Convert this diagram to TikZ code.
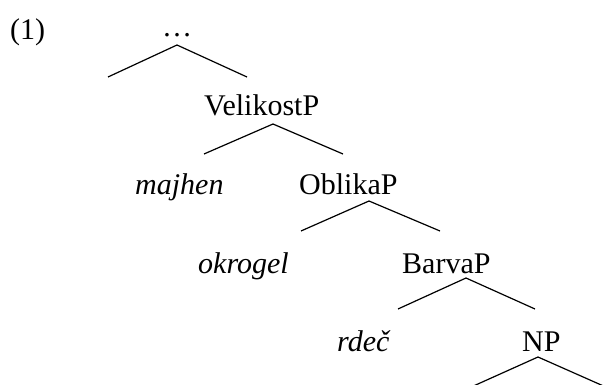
\documentclass[tikz,border=0pt]{standalone}
\usepackage{fontspec}
\setmainfont{Liberation Serif}
\begin{document}
\begin{tikzpicture}[x=1pt,y=-1pt,
  lbl/.style={anchor=base west, inner sep=0pt, font=\fontsize{30}{36}\selectfont},
  itl/.style={anchor=base west, inner sep=0pt, font=\fontsize{30}{36}\selectfont\itshape},
  branch/.style={line width=1.2pt, line join=miter}]
\useasboundingbox (0,0) rectangle (606,385);
\clip (0,0) rectangle (606,385);
% labels
\node[lbl] (ex) at (10,40) {(1)};
\node[lbl, anchor=base] (top) at (177,37) {…};
\node[lbl] (vel) at (204,116) {VelikostP};
\node[itl] (maj) at (135,195) {majhen};
\node[lbl] (obl) at (299,195) {OblikaP};
\node[itl] (okr) at (198,273) {okrogel};
\node[lbl] (bar) at (402,273) {BarvaP};
\node[itl] (rde) at (337,352) {rdeč};
\node[lbl] (np) at (522,352) {NP};
% fork points
\coordinate (a1) at (177,45);  \coordinate (l1) at (108,77);  \coordinate (r1) at (247,77);
\coordinate (a2) at (273,124); \coordinate (l2) at (204,154); \coordinate (r2) at (343,154);
\coordinate (a3) at (369,201); \coordinate (l3) at (301,231); \coordinate (r3) at (440,231);
\coordinate (a4) at (466,278); \coordinate (l4) at (398,309); \coordinate (r4) at (535,309);
\coordinate (a5) at (538,357); \coordinate (l5) at (469,388); \coordinate (r5) at (608,388);
\foreach \i in {1,...,5} {\draw[branch] (l\i) -- (a\i) -- (r\i);}
\end{tikzpicture}
\end{document}
